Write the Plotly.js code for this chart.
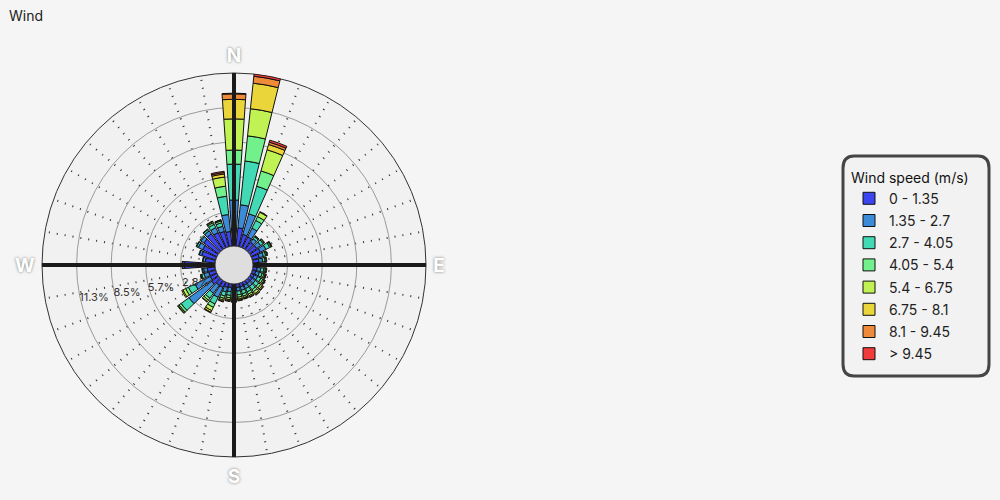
<!DOCTYPE html>
<html><head><meta charset="utf-8">
<script src="https://cdn.plot.ly/plotly-3.0.1.min.js"></script>
<style>html,body{margin:0;padding:0;background:#f4f5f4;}</style>
</head><body>
<div id="chart" style="width:1000px;height:500px;"></div>
<script>
// Directions (degrees, compass)
const directions = [0,10,20,30,40,50,60,70,80,90,100,110,120,130,140,150,160,170,180,190,200,210,220,230,240,250,260,270,280,290,300,310,320,330,340,350];
const speedBins = ['0 - 1.35','1.35 - 2.7','2.7 - 4.05','4.05 - 5.4','5.4 - 6.75','6.75 - 8.1','8.1 - 9.45','> 9.45'];
const binColors = ['#3b45f2','#3c8bd8','#42dab4','#72f08c','#bff252','#ead63a','#ee8a38','#f23c3c'];
// frequency (%) per direction for each speed bin
const s0 = [1.5,1.5,1.05,1.0,0.75,0.75,0.85,0.6,0.5,0.4,0.35,0.3,0.3,0.3,0.3,0.3,0.3,0.3,0.3,0.3,0.35,0.5,0.5,0.7,0.6,0.6,0.65,2.5,0.8,1.2,1.3,1.5,1.6,1.4,1.3,1.2];
const s1 = [2.26,1.9,1.75,0.8,0.35,0.4,0.5,0.35,0.3,0.3,0.3,0.3,0.3,0.3,0.3,0.3,0.3,0.3,0.35,0.35,0.4,0.9,0.8,2.3,1.4,0.4,0.3,0.15,0.2,0.2,0.4,0.3,0.3,0.45,0.45,1.4];
const s2 = [2.94,3.6,2.35,0.7,0.2,0.25,0.35,0.2,0.2,0.2,0.25,0.25,0.3,0.35,0.35,0.3,0.3,0.3,0.35,0.3,0.35,0.6,0.5,0.8,0.6,0.2,0.1,0.05,0.05,0.05,0.15,0.1,0.15,0.3,0.3,1.5];
const s3 = [1.15,2.07,1.3,0.35,0.07,0.1,0.12,0.1,0.1,0.1,0.12,0.15,0.18,0.2,0.2,0.2,0.2,0.2,0.2,0.2,0.2,0.3,0.2,0.2,0.25,0.07,0.05,0,0,0,0.05,0,0.05,0.15,0.15,0.83];
const s4 = [2.55,2.23,1.8,0.4,0.03,0.05,0.06,0.05,0.05,0.07,0.08,0.1,0.12,0.15,0.2,0.15,0.13,0.15,0.15,0.15,0.15,0.3,0.15,0.1,0.25,0.03,0,0,0,0,0,0,0,0.1,0.08,0.75];
const s5 = [1.6,2.1,0.45,0.05,0,0,0.02,0,0,0.03,0.05,0.07,0.07,0.1,0.1,0.1,0.08,0.1,0.1,0.1,0.1,0.15,0.05,0.05,0.1,0,0,0,0,0,0,0,0,0.05,0.02,0.25];
const s6 = [0.45,0.57,0.2,0,0,0,0,0,0,0,0,0.03,0.03,0.05,0.05,0.05,0.04,0.05,0.05,0.05,0.05,0.05,0,0,0,0,0,0,0,0,0,0,0,0,0,0.12];
const s7 = [0.05,0.18,0.17,0,0,0,0,0,0,0,0,0,0,0,0,0,0,0,0,0,0,0,0,0,0,0,0,0,0,0,0,0,0,0,0,0.1];
const series = [s0,s1,s2,s3,s4,s5,s6,s7];
const radialMax = 14.15;
const radialTicks = [2.83,5.66,8.49,11.32];
const radialTickText = ['2.8%','5.7%','8.5%','11.3%'];
const compassVals = [0,90,180,270];
const compassText = ['N','E','S','W'];

const gridVals = directions.slice();
const gridText = directions.map(d => { const i = compassVals.indexOf(d); return i >= 0 ? compassText[i] : ''; });

const traces = [];
// thick compass lines
compassVals.forEach(a => {
  traces.push({type:'scatterpolar', mode:'lines', r:[0, radialMax], theta:[a, a],
    line:{color:'#1a1a1a', width:4}, showlegend:false, hoverinfo:'skip'});
});
series.forEach((vals, i) => {
  traces.push({type:'barpolar', name:speedBins[i], legendgroup:'g'+i, r:vals.map(v => v === 0 ? null : v), theta:directions,
    width:8, marker:{color:binColors[i], line:{color:'#111', width:1}}});
});

const layout = {
  width:1000, height:500,
  paper_bgcolor:'#f4f5f4',
  font:{family:'Inter, "Noto Sans", sans-serif', color:'#222'},
  margin:{l:0,r:0,t:0,b:0},
  title:{text:'Wind', x:0.009, xanchor:'left', y:0.967, yanchor:'middle', font:{size:14, color:'#222'}},
  showlegend:true,
  legend:{x:0.849, xanchor:'left', y:0.671, yanchor:'top', bgcolor:'rgba(0,0,0,0)', borderwidth:0,
    tracegroupgap:1,
    title:{text:'Wind speed (m/s)', font:{size:14, color:'#111'}}, font:{size:14, color:'#222'}, itemwidth:30},
  polar:{
    domain:{x:[0.042,0.426], y:[0.086,0.854]},
    bgcolor:'#f1f1f1',
    hole:0.099,
    barmode:'stack',
    radialaxis:{range:[0, radialMax], tickvals:radialTicks, ticktext:radialTickText, angle:188, tickangle:-172,
      side:'counterclockwise', layer:'above traces',
      showline:false, ticks:'', gridcolor:'#9a9a9a', gridwidth:1, tickfont:{size:11, color:'#333'}},
    angularaxis:{rotation:90, direction:'clockwise', tickmode:'array', tickvals:gridVals, ticktext:gridText,
      showline:true, linecolor:'#333', linewidth:1, ticks:'outside', ticklen:3, tickcolor:'rgba(0,0,0,0)',
      gridcolor:'#333', griddash:'1px,7px', gridwidth:1.5, layer:'below traces',
      tickfont:{size:19, color:'#ffffff', weight:'bold', shadow:'0px 0px 3px #777'}}
  },
  shapes:[
    {type:'path', xref:'paper', yref:'paper', layer:'below',
     path:'M 0.854 0.688 L 0.978 0.688 Q 0.989 0.688 0.989 0.664 L 0.989 0.272 Q 0.989 0.248 0.978 0.248 L 0.854 0.248 Q 0.843 0.248 0.843 0.272 L 0.843 0.664 Q 0.843 0.688 0.854 0.688 Z',
     fillcolor:'#f2f2f2', line:{color:'#454545', width:3}},
    {type:'circle', xref:'paper', yref:'paper', layer:'above',
     x0:0.215, x1:0.253, y0:0.432, y1:0.508, fillcolor:'#dedede', line:{color:'#333', width:1}}
  ]
};
Plotly.newPlot('chart', traces, layout, {displayModeBar:false});
</script>
</body></html>
